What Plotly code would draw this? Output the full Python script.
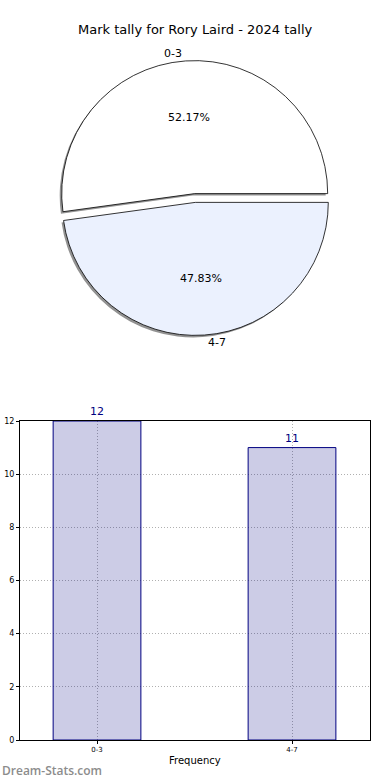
import math
import plotly.graph_objects as go

# ---- data ----
categories = ["0-3", "4-7"]
counts = [12, 11]
pie_colors = ["#ffffff", "#ebf1fe"]
title_text = "Mark tally for Rory Laird - 2024 tally"
y_ticks = [0, 2, 4, 6, 8, 10, 12]

W, H = 390, 780
FONT = "DejaVu Sans"

# pie geometry (pixels)
cx, cy, R = 195, 198, 133
RX, RY = 141, 128  # label placement radii
pull = 0.033
half = R * (1 + pull)

total = sum(counts)
# first slice goes counter-clockwise from 3 o'clock
rot = 90 - 360 * counts[0] / total


def dom_x(c, h):
    return [(c - h) / W, (c + h) / W]


def dom_y(c, h):
    return [1 - (c + h) / H, 1 - (c - h) / H]


fig = go.Figure()

# shadow pie
fig.add_trace(go.Pie(
    labels=categories, values=counts, sort=False, direction="counterclockwise",
    rotation=rot, pull=[pull] * len(counts),
    marker=dict(colors=["rgba(110,110,110,0.75)"] * len(counts), line=dict(width=0)),
    textinfo="none", hoverinfo="skip", showlegend=False,
    domain=dict(x=dom_x(cx - 2, half), y=dom_y(cy + 2, half)),
))
# main pie
fig.add_trace(go.Pie(
    labels=categories, values=counts, sort=False, direction="counterclockwise",
    rotation=rot, pull=[pull] * len(counts),
    marker=dict(colors=pie_colors, line=dict(color="#000000", width=0.8)),
    textinfo="none", showlegend=False,
    domain=dict(x=dom_x(cx, half), y=dom_y(cy, half)),
))

# labels and percentages computed from the data
start = 0.0
annotations = []
for cat, v in zip(categories, counts):
    frac = v / total
    mid = (start + frac / 2) * 2 * math.pi
    start += frac
    ca, sa = math.cos(mid), math.sin(mid)
    off = pull * R
    lx = cx + (1.1 * RX + off) * ca
    ly = cy - (1.1 * RY + off) * sa
    annotations.append(dict(x=lx / W, y=1 - ly / H, xref="paper", yref="paper",
                            xanchor="right" if ca < 0 else "left", yanchor="middle",
                            text=cat, showarrow=False,
                            font=dict(family=FONT, size=11, color="#000")))
    px = cx + (0.6 * RX + off) * ca
    py = cy - (0.6 * RY + off) * sa
    annotations.append(dict(x=px / W, y=1 - py / H, xref="paper", yref="paper",
                            xanchor="center", yanchor="middle",
                            text=f"{frac * 100:.2f}%", showarrow=False,
                            font=dict(family=FONT, size=11, color="#000")))

# bar chart
fig.add_trace(go.Bar(
    x=categories, y=counts, width=0.45,
    marker=dict(color="rgba(0,0,128,0.2)", line=dict(color="#000080", width=1)),
    text=[str(c) for c in counts], textposition="outside",
    textfont=dict(family=FONT, size=11, color="#000080"),
    cliponaxis=False, showlegend=False, xaxis="x", yaxis="y",
))

annotations.append(dict(x=0.5, y=1 - 30 / H, xref="paper", yref="paper",
                        xanchor="center", yanchor="middle",
                        text=title_text, showarrow=False,
                        font=dict(family=FONT, size=13, color="#000")))
annotations.append(dict(x=195 / W, y=1 - 760 / H, xref="paper", yref="paper",
                        xanchor="center", yanchor="middle",
                        text="Frequency", showarrow=False,
                        font=dict(family=FONT, size=10, color="#000")))
annotations.append(dict(x=3 / W, y=1 - 580 / H, xref="paper", yref="paper",
                        xanchor="right", yanchor="middle",
                        text="Statistic Value", showarrow=False, textangle=-90,
                        font=dict(family=FONT, size=9, color="#000")))
annotations.append(dict(x=0, y=1 - 770 / H, xref="paper", yref="paper",
                        xanchor="left", yanchor="middle",
                        text="Dream-Stats.com", showarrow=False,
                        font=dict(family="Open Sans", size=12, color="#8c8c8c", weight=600)))

fig.update_layout(
    width=W, height=H, margin=dict(l=0, r=0, t=0, b=0),
    paper_bgcolor="#ffffff", plot_bgcolor="#ffffff",
    font=dict(family=FONT, size=8, color="#000"),
    annotations=annotations,
    xaxis=dict(domain=[20 / W, 370 / W], range=[-0.395, 1.4], automargin=False,
               showline=True, mirror=True, linecolor="#000", linewidth=1,
               showgrid=True, gridcolor="#b0b0b0", griddash="1px,2px", gridwidth=1,
               ticks="outside", ticklen=3, tickcolor="#000",
               tickfont=dict(family=FONT, size=7), zeroline=False),
    yaxis=dict(domain=[1 - 740 / H, 1 - 421 / H], range=[0, 12], automargin=False,
               tickvals=y_ticks,
               showline=True, mirror=True, linecolor="#000", linewidth=1,
               showgrid=True, gridcolor="#b0b0b0", griddash="1px,2px", gridwidth=1,
               ticks="outside", ticklen=3, tickcolor="#000",
               tickfont=dict(family=FONT, size=8), zeroline=False),
)

fig.write_html(
    "out.html",
    config={"displayModeBar": False},
    post_script="document.body.style.margin='0';document.body.style.overflow='hidden';",
)
